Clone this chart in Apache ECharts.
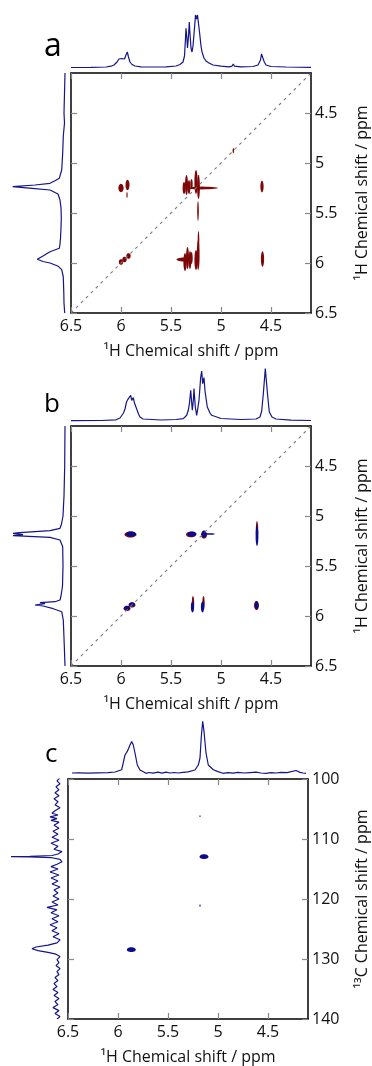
<!DOCTYPE html>
<html>
<head>
<meta charset="utf-8">
<script src="https://cdn.jsdelivr.net/npm/echarts@6/dist/echarts.min.js"></script>
<style>
  html, body { margin: 0; padding: 0; background: #fff; }
  #chart { width: 372px; height: 1066px; }
</style>
</head>
<body>
<div id="chart"></div>
<script>
// tick labels
const xTicksH = [6.5, 6, 5.5, 5, 4.5];
const yTicksH = [4.5, 5, 5.5, 6, 6.5];
const yTicksC = [100, 110, 120, 130, 140];
const diagLine = [[6.5, 6.5], [4.1, 4.1]];

// 1D projections: [ppm, intensity]
const topA = [[6.5,0.5],[6.3,0.6],[6.15,1],[6.1,1.8],[6.07,3],[6.04,6],[6.02,9],[6.007,11],[5.995,9.5],[5.985,10.5],[5.975,8.5],[5.965,9],[5.95,13],[5.937,16],[5.925,11],[5.91,6],[5.89,3.5],[5.86,2],[5.8,1.2],[5.7,1],[5.55,1.2],[5.45,2],[5.41,3.5],[5.38,6],[5.365,12],[5.355,30],[5.35,39.7],[5.343,32],[5.335,20],[5.325,32],[5.317,46],[5.31,34],[5.3,20],[5.29,16],[5.28,22],[5.265,40],[5.255,53],[5.245,49],[5.235,53],[5.227,53],[5.215,36],[5.2,22],[5.19,16],[5.17,10],[5.15,7],[5.12,5],[5.08,3],[5.0,1.8],[4.92,1.2],[4.89,1.8],[4.877,4],[4.865,1.8],[4.8,1.2],[4.68,1.5],[4.63,3],[4.605,8],[4.595,14],[4.587,16],[4.578,13],[4.567,6],[4.55,3],[4.5,1.5],[4.35,1],[4.1,0.6]];
const leftA = [[4.1,0],[4.3,0.5],[4.5,1],[4.6,0.5],[4.73,1.7],[4.9,2.3],[5.07,3.3],[5.153,5.7],[5.177,10],[5.203,15],[5.22,30],[5.237,52.3],[5.253,33],[5.27,15],[5.31,7],[5.37,5],[5.45,4],[5.55,3.7],[5.65,4],[5.75,4.5],[5.81,5],[5.853,5.7],[5.887,15],[5.93,22],[5.963,27.7],[5.985,22],[6.0,15],[6.033,6.7],[6.067,3.3],[6.14,1.7],[6.3,1.2],[6.4,1],[6.5,0.3]];
const topB = [[6.5,0.3],[6.2,0.5],[6.05,1.2],[6.01,3],[5.993,5],[5.975,8],[5.96,12],[5.945,19],[5.933,21.3],[5.922,19.5],[5.913,23],[5.903,25.7],[5.893,20.5],[5.884,22],[5.877,23.4],[5.865,18],[5.843,12],[5.825,7],[5.81,4],[5.78,2],[5.6,1],[5.45,1.5],[5.377,2.4],[5.343,5.7],[5.327,10.7],[5.315,18],[5.303,30.7],[5.287,10.7],[5.277,20],[5.27,32.4],[5.257,14],[5.243,5.7],[5.22,20.7],[5.203,44],[5.193,50],[5.183,37.4],[5.17,43.4],[5.16,30],[5.137,14],[5.11,8],[5.093,5.7],[5.0,2.5],[4.8,1.5],[4.65,2],[4.61,4],[4.593,10],[4.577,27],[4.557,52.4],[4.533,25],[4.517,9],[4.49,4],[4.45,2],[4.3,0.8],[4.1,0.5]];
const leftB = [[4.1,0],[4.5,0.3],[4.8,1],[5.0,2],[5.08,3.5],[5.123,5],[5.147,15],[5.167,45],[5.173,52],[5.187,42],[5.197,52],[5.213,15],[5.24,5],[5.307,2.3],[5.5,2],[5.7,2.5],[5.8,4],[5.84,5],[5.857,10],[5.867,25],[5.877,20],[5.89,30],[5.9,22],[5.913,21.7],[5.927,11.7],[5.957,3.3],[6.04,1.7],[6.3,0.7],[6.5,0]];
const topC = [[6.46,0],[6.4,0.2],[6.3,-0.2],[6.2,0.2],[6.1,0.4],[6.03,1],[5.963,3.3],[5.93,18],[5.907,21.6],[5.88,28],[5.863,31.6],[5.847,28],[5.83,20],[5.807,8],[5.78,3],[5.747,1.2],[5.72,-0.3],[5.69,0.5],[5.65,-0.2],[5.6,0.8],[5.56,-0.2],[5.52,0.9],[5.48,0],[5.44,0.5],[5.4,0],[5.35,0.7],[5.3,1.2],[5.23,3],[5.197,8],[5.18,15],[5.167,36],[5.153,51.7],[5.14,41.7],[5.12,20],[5.097,8],[5.047,3.3],[5.0,1.4],[4.95,-0.3],[4.9,0.4],[4.85,-0.2],[4.8,0.6],[4.74,0],[4.68,0.4],[4.62,0.8],[4.57,0],[4.52,-0.3],[4.47,0.4],[4.42,0],[4.37,0.7],[4.31,0.3],[4.22,2.5],[4.18,0.6],[4.15,0],[4.12,-0.3]];
const leftC = [[99.8,0],[100.3,3],[100.8,0],[101.3,4],[101.8,1],[102.3,5],[102.8,1],[103.3,6],[103.8,2],[104.3,5],[104.8,0],[105.3,5],[105.7,8],[106.0,2],[106.3,10],[106.6,3],[106.9,9],[107.2,1],[107.7,6],[108.2,1],[108.7,7],[109.2,2],[109.7,8],[110.2,1],[110.7,9],[111.2,2],[111.7,6],[112.1,-2],[112.5,2],[112.75,8],[112.88,30],[112.94,49],[113.0,30],[113.12,8],[113.4,0],[113.8,-2],[114.2,3],[114.6,9],[115.0,2],[115.5,10],[116.0,1],[116.5,9],[117.0,2],[117.5,8],[118.0,0],[118.5,6],[119.0,2],[119.5,7],[120.0,1],[120.5,8],[121.0,2],[121.4,13],[121.8,3],[122.3,9],[122.8,1],[123.3,8],[123.8,2],[124.3,10],[124.8,3],[125.3,8],[125.8,1],[126.3,7],[126.8,0],[127.3,3],[127.7,12],[128.0,24],[128.3,28],[128.6,22],[128.9,12],[129.2,4],[129.6,0],[130.1,3],[130.6,1],[131.1,4],[131.6,0],[132.1,3],[132.6,1],[133.1,5],[133.6,2],[134.1,6],[134.6,3],[135.1,7],[135.6,2],[136.1,6],[136.6,1],[137.1,5],[137.6,2],[138.1,7],[138.6,1],[139.1,5],[139.6,0],[140.0,3]];

// 2D cross peaks: [x ppm, y ppm, half-width x, half-width y]
const redA = [[6.0,5.25,0.026,0.042],[5.935,5.22,0.02,0.052],[5.94,5.32,0.006,0.03],[6.0,5.99,0.022,0.028],[5.965,5.965,0.022,0.028],[5.925,5.93,0.022,0.028],[4.877,4.877,0.007,0.026],
  [5.37,5.25,0.014,0.06],[5.345,5.22,0.015,0.1],[5.32,5.24,0.014,0.07],[5.295,5.21,0.012,0.05],[5.25,5.19,0.016,0.12],[5.225,5.24,0.014,0.12],[5.23,5.48,0.008,0.1],[5.19,5.25,0.16,0.014],
  [4.59,5.235,0.016,0.058],
  [5.37,5.965,0.075,0.02],[5.36,5.99,0.016,0.09],[5.335,5.95,0.015,0.11],[5.31,5.97,0.014,0.09],[5.295,5.95,0.012,0.06],[5.25,5.97,0.016,0.1],[5.228,5.92,0.014,0.15],[5.225,5.77,0.008,0.09],
  [4.585,5.96,0.016,0.078]];
const redB = [[5.905,5.185,0.06,0.03],[5.3,5.185,0.05,0.028],[5.17,5.19,0.03,0.035],[4.64,5.14,0.012,0.09],[5.94,5.925,0.035,0.025],[5.89,5.89,0.035,0.025],[5.28,5.87,0.012,0.07],[5.175,5.87,0.012,0.07],[4.645,5.895,0.024,0.045]];
const blueB = [[5.9,5.18,0.05,0.025],[5.29,5.18,0.045,0.025],[5.17,5.18,0.025,0.035],[5.12,5.18,0.06,0.008],[4.64,5.2,0.014,0.1],[5.94,5.92,0.03,0.022],[5.89,5.885,0.03,0.022],[5.285,5.91,0.016,0.055],[5.185,5.91,0.016,0.055],[4.645,5.89,0.018,0.04]];
const blueC = [[5.867,128.45,0.045,0.4],[5.14,112.95,0.045,0.4],[5.18,121.1,0.006,0.2]];
const redC = [[5.18,106.2,0.006,0.15]];

const FONT = "'Open Sans', sans-serif";
const INK = '#15158a';
const RED = '#7d0707';
const BLUE = '#0b0b8e';
const H_NAME = '\u00b9H Chemical shift / ppm';
const C_NAME = '\u00b9\u00b3C Chemical shift / ppm';

const grids = [], xAxes = [], yAxes = [], series = [];

function blobRender(color) {
  return function (params, api) {
    const c = api.coord([api.value(0), api.value(1)]);
    const s = api.size([api.value(2), api.value(3)]);
    const rx = Math.abs(s[0]), ry = Math.abs(s[1]);
    const pts = [];
    for (let k = 0; k < 28; k++) {
      const t = (k / 28) * Math.PI * 2;
      pts.push([c[0] + rx * Math.cos(t), c[1] + ry * Math.sin(t)]);
    }
    return { type: 'polygon', shape: { points: pts }, style: { fill: color } };
  };
}

const labelStyle = { color: '#111', fontSize: 16, fontFamily: FONT };
const tickStyle = { color: '#888', width: 1.2 };
const frameLine = { show: true, onZero: false, lineStyle: { color: '#000', width: 1.5 } };

function box(left, top, width, height) {
  return { left: left, top: top, width: width, height: height, containLabel: false, outerBoundsMode: 'none' };
}

function addPanel(p) {
  // main 2D box
  const g = grids.length;
  grids.push(box(p.left, p.top, 240, 240));
  const xi = xAxes.length, yi = yAxes.length;
  xAxes.push({
    gridIndex: g, type: 'value', position: 'bottom', min: 4.1, max: 6.5, inverse: true,
    axisLine: frameLine,
    axisTick: { inside: true, length: 6, customValues: xTicksH, lineStyle: tickStyle },
    axisLabel: Object.assign({ customValues: xTicksH, margin: 5 }, labelStyle),
    splitLine: { show: false },
    name: H_NAME, nameLocation: 'middle', nameGap: 30,
    nameTextStyle: { color: '#111', fontSize: 16, fontFamily: FONT }
  });
  xAxes.push({
    gridIndex: g, type: 'value', position: 'top', min: 4.1, max: 6.5, inverse: true,
    axisLine: frameLine,
    axisTick: { inside: true, length: 6, customValues: xTicksH, lineStyle: tickStyle },
    axisLabel: { show: false }, splitLine: { show: false }
  });
  yAxes.push({
    gridIndex: g, type: 'value', position: 'right', min: p.yMin, max: p.yMax, inverse: true,
    axisLine: frameLine,
    axisTick: { inside: true, length: 6, customValues: p.yTicks, lineStyle: tickStyle },
    axisLabel: Object.assign({ customValues: p.yTicks, margin: 4 }, labelStyle),
    splitLine: { show: false },
    name: p.yName, nameLocation: 'middle', nameGap: p.nameGap, nameRotate: 90,
    nameTextStyle: { color: '#111', fontSize: 16, fontFamily: FONT }
  });
  yAxes.push({
    gridIndex: g, type: 'value', position: 'left', min: p.yMin, max: p.yMax, inverse: true,
    axisLine: frameLine,
    axisTick: { inside: true, length: 6, customValues: p.yTicks, lineStyle: tickStyle },
    axisLabel: { show: false }, splitLine: { show: false }
  });
  p.blobs.forEach(function (b) {
    series.push({
      type: 'custom', xAxisIndex: xi, yAxisIndex: yi, data: b[0],
      renderItem: blobRender(b[1]), silent: true, z: 3
    });
  });
  if (p.diag) {
    series.push({
      type: 'line', xAxisIndex: xi, yAxisIndex: yi, data: diagLine, symbol: 'none', z: 5,
      lineStyle: { color: '#7a7a7a', width: 1.1, type: [3, 4] }
    });
  }

  // top 1D trace
  const gt = grids.length;
  grids.push(box(p.left, p.topBase - 55, 240, 57));
  xAxes.push({ gridIndex: gt, type: 'value', min: 4.1, max: 6.5, inverse: true, show: false });
  yAxes.push({ gridIndex: gt, type: 'value', min: -2, max: 55, show: false });
  series.push({
    type: 'line', xAxisIndex: xAxes.length - 1, yAxisIndex: yAxes.length - 1,
    data: p.top1d, symbol: 'none', lineStyle: { color: INK, width: 1.2 }
  });

  // left 1D trace
  const gl = grids.length;
  grids.push(box(p.leftBase - 55, p.top, 57, 240));
  xAxes.push({ gridIndex: gl, type: 'value', min: -2, max: 55, inverse: true, show: false });
  yAxes.push({ gridIndex: gl, type: 'value', min: p.yMin, max: p.yMax, inverse: true, show: false });
  series.push({
    type: 'line', xAxisIndex: xAxes.length - 1, yAxisIndex: yAxes.length - 1,
    data: p.left1d.map(function (d) { return [d[1], d[0]]; }),
    symbol: 'none', lineStyle: { color: INK, width: 1.2 }
  });
}

addPanel({ left: 71, top: 73, topBase: 68, leftBase: 65, yMin: 4.1, yMax: 6.5, yTicks: yTicksH,
  yName: H_NAME, nameGap: 43, top1d: topA, left1d: leftA, blobs: [[redA, RED]], diag: true });
addPanel({ left: 71, top: 426, topBase: 421, leftBase: 65, yMin: 4.1, yMax: 6.5, yTicks: yTicksH,
  yName: H_NAME, nameGap: 43, top1d: topB, left1d: leftB, blobs: [[redB, RED], [blueB, BLUE]], diag: true });
addPanel({ left: 68, top: 779, topBase: 773, leftBase: 60, yMin: 100, yMax: 140, yTicks: yTicksC,
  yName: C_NAME, nameGap: 46, top1d: topC, left1d: leftC, blobs: [[redC, RED], [blueC, BLUE]], diag: false });

function letter(t, x, y, size) {
  return { type: 'text', style: { text: t, x: x, y: y, fill: '#000', fontSize: size, fontFamily: FONT,
    textAlign: 'left', textVerticalAlign: 'middle', verticalAlign: 'middle' } };
}

const chart = echarts.init(document.getElementById('chart'));
chart.setOption({
  animation: false,
  backgroundColor: '#fff',
  grid: grids,
  xAxis: xAxes,
  yAxis: yAxes,
  series: series,
  graphic: [letter('a', 44, 47, 32), letter('b', 44, 405, 26), letter('c', 45, 755, 26)]
});
</script>
</body>
</html>
